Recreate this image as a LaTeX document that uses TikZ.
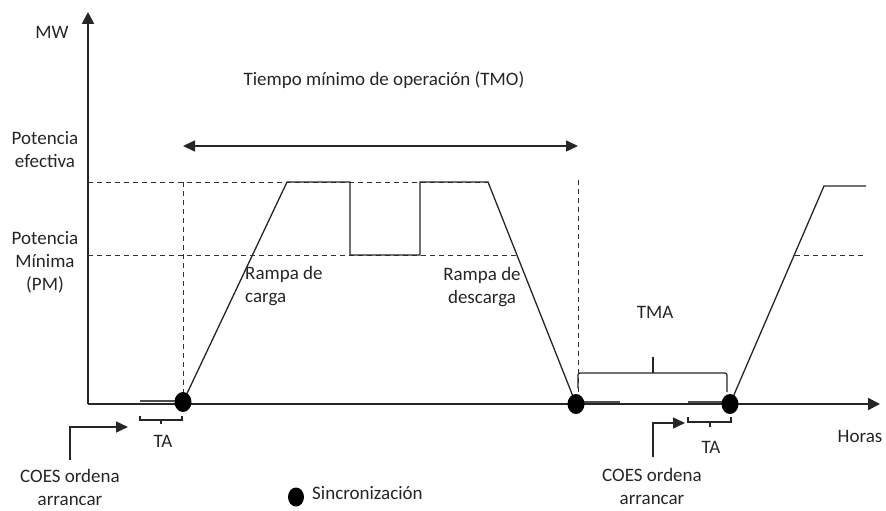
\documentclass[tikz,border=0pt]{standalone}
\usepackage{fontspec}
\setmainfont{Carlito}
\usetikzlibrary{arrows.meta}
\begin{document}
\begin{tikzpicture}[x=1pt,y=-1pt,
  axis/.style={line width=2pt, draw=black!85, -{Triangle[length=12pt,width=12pt]}},
  guide/.style={dash pattern=on 5pt off 4pt, line width=1pt, draw=black!80},
  curve/.style={line width=1.3pt, draw=black!85},
  brk/.style={line width=1.2pt, draw=black!85},
  lbl/.style={font=\fontsize{19}{23}\selectfont, text=black!85, align=center, inner sep=0pt}]
\useasboundingbox (0,0) rectangle (886,511);
% axes
\coordinate (O) at (88,404);
\draw [axis] (O)--(88,12);
\draw [axis] (O)--(880,404);
\node[lbl] (mw) at (52,32) {MW};
\node[lbl] (horas) at (860,436) {Horas};
\node[lbl] (pef) at (45,150) {Potencia\\efectiva};
\node[lbl] (pmin) at (45,262) {Potencia\\M\'inima\\(PM)};
% guides
\draw [guide] (88,182)--(488,182);
\draw [guide] (88,255)--(517,255);
\draw [guide] (183,182)--(183,404);
\draw [guide] (578,180)--(578,404);
\draw [guide] (795,255)--(866,255);
% power curve
\coordinate (s1) at (183,402);
\coordinate (s2) at (576,404);
\coordinate (s3) at (730,404);
\draw [curve] (s1)--(287,182)--(350,182)--(350,255)--(420,255)--(420,182)--(488,182)--(s2);
\draw [curve] (s3)--(824,186)--(866,186);
% start-up time on the axis
\draw [line width=2.5pt, black!70] (140,401)--(183,401);
\draw [line width=2.5pt, black!70] (576,402)--(620,402);
\draw [line width=2.5pt, black!70] (688,402)--(730,402);
\foreach \p in {s1,s2,s3}
  \fill (\p) ellipse[x radius=8.5pt, y radius=10pt];
% TMO
\node[lbl] (tmo) at (384,80) {Tiempo m\'inimo de operaci\'on (TMO)};
\draw [line width=1.5pt, black!85, {Triangle[length=12pt,width=11pt]}-{Triangle[length=12pt,width=11pt]}] (183,146)--(578,146);
\node[lbl, align=left, anchor=west] (rc) at (245,286) {Rampa de\\carga};
\node[lbl] (rd) at (482,287) {Rampa de\\descarga};
% TMA
\node[lbl] (tma) at (655,312) {TMA};
\draw [brk, rounded corners=2pt] (578,388)--(578,373)--(727,373)--(727,392);
\draw [brk] (653,373)--(653,357);
% TA
\draw [brk] (140,416)--(140,420)--(182,420)--(182,416);
\draw [brk] (161,420)--(161,424);
\node[lbl] (ta1) at (163,441) {TA};
\draw [brk] (688,417)--(688,422)--(731,422)--(731,417);
\draw [brk] (710,422)--(710,427);
\node[lbl] (ta2) at (711,447) {TA};
% COES
\node[lbl] (coes1) at (70,487) {COES ordena\\arrancar};
\node[lbl] (coes2) at (652,486) {COES ordena\\arrancar};
\draw [line width=1.5pt, black!85, -{Triangle[length=12pt,width=11pt]}] (70,460)|-(128,427);
\draw [line width=1.5pt, black!85, -{Triangle[length=12pt,width=11pt]}] (653,457)|-(685,423);
% legend
\fill (296,497) ellipse[x radius=8pt, y radius=9.5pt];
\node[lbl, anchor=west] (sinc) at (312,493) {Sincronizaci\'on};
\end{tikzpicture}
\end{document}
